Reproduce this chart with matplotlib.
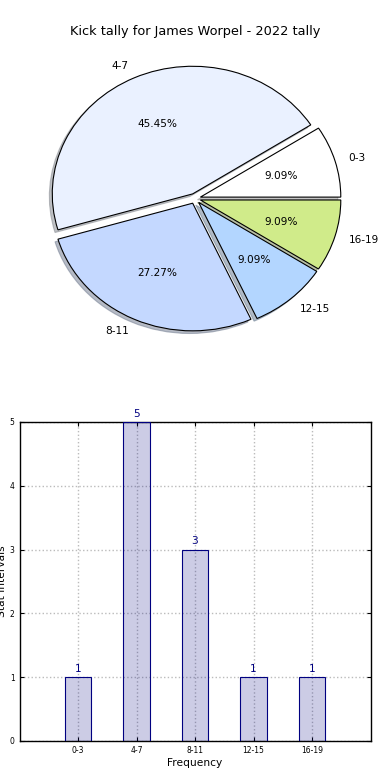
import matplotlib
matplotlib.use('Agg')
from matplotlib import pyplot as plt
import numpy as np

labels = ['0-3', '4-7', '8-11', '12-15', '16-19']
counts = [1, 5, 3, 1, 1]
pie_colors = ['#FFFFFF', '#EAF1FF', '#C4D8FF', '#B3D6FF', '#D0EB8A']

fig, (ax1, ax2) = plt.subplots(2, 1, figsize=(3.9, 7.8), dpi=100)
plt.subplots_adjust(left=0.05, right=0.95, bottom=0.05, top=0.95, hspace=0.2)

# pie (old style, not forced circular)
ax1.pie(counts, labels=labels, colors=pie_colors, autopct='%1.2f%%',
        explode=[0.04] * 5, shadow={'ox': -0.015, 'oy': -0.015, 'shade': 0.45},
        wedgeprops={'edgecolor': 'black', 'linewidth': 0.8},
        textprops={'fontsize': 7.6})
ax1.set_aspect('auto')
ax1.set_xlim(-1.25, 1.25)
ax1.set_ylim(-1.25, 1.25)
ax1.set_title('Kick tally for James Worpel - 2022 tally', fontsize=9.3, pad=3)

# bars
x = np.arange(len(labels))
ax2.bar(x, counts, width=0.45, color='navy', alpha=0.2, zorder=2)
ax2.bar(x, counts, width=0.45, fill=False, edgecolor='navy', linewidth=0.8, zorder=3)
for xi, c in zip(x, counts):
    ax2.text(xi, c + 0.05, str(c), ha='center', va='bottom', color='navy', fontsize=7.6)
ax2.set_xticks(x)
ax2.set_xticklabels(labels)
ax2.set_xlim(-1, 5)
ax2.set_ylim(0, 5)
ax2.set_yticks(range(6))
ax2.grid(True, linestyle=':', color='#bbbbbb', linewidth=1, zorder=0)
ax2.set_axisbelow(True)
ax2.tick_params(direction='in', top=True, right=True, labelsize=5.5, length=3)
ax2.set_xlabel('Frequency', fontsize=7.7, labelpad=2)
ax2.set_ylabel('Stat Intervals', fontsize=7.7, labelpad=2)
for s in ax2.spines.values():
    s.set_linewidth(1)

plt.savefig('out.png')
